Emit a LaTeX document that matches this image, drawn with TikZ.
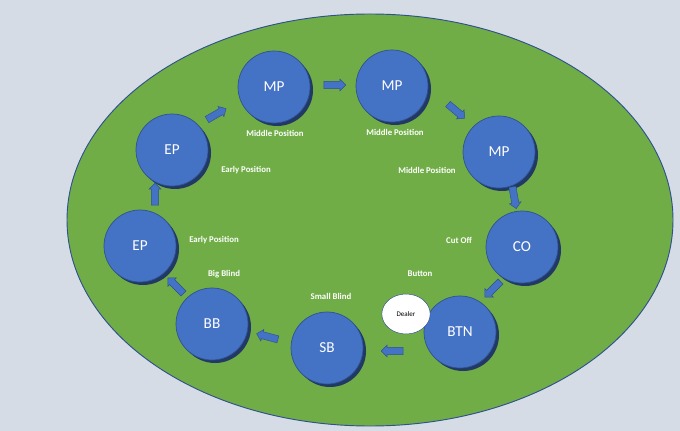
\documentclass[tikz,border=0pt]{standalone}
\usepackage{fontspec}
\setmainfont{Carlito}
\usetikzlibrary{shapes.arrows,shapes.geometric}
\definecolor{bgcol}{HTML}{D6DCE5}
\definecolor{felt}{HTML}{70AD47}
\definecolor{seat}{HTML}{4472C4}
\definecolor{rim}{HTML}{2F528F}
\tikzset{
  seatnode/.style={circle,fill=seat,draw=rim,line width=0.6pt,minimum size=2.16cm,
    text=white,font=\fontsize{13}{15}\selectfont},
  poslabel/.style={text=white,font=\bfseries\fontsize{7.5}{9}\selectfont},
  movearrow/.style={single arrow,fill=seat,draw=rim,line width=0.4pt,
    minimum height=0.66cm,text height=0.2cm,text depth=0pt,text width=0.2cm,
    single arrow head extend=0.07cm,inner sep=0pt}
}
\begin{document}
\begin{tikzpicture}[x=0.03cm,y=-0.03cm]
  \fill[bgcol] (0,0) rectangle (680,431);
  \useasboundingbox (0,0) rectangle (680,431);
  \draw[fill=felt,draw=rim,line width=0.8pt] (370,220) ellipse [x radius=303,y radius=206];
  % seats
  \foreach \x/\y/\n/\t in {274/87/mpa/MP,392/86/mpb/MP,499/152/mpc/MP,522/247/co/CO,
      460/332/btn/BTN,327/348/sb/SB,212/324/bb/BB,140/246/epa/EP,172/150/epb/EP}
    \fill[rim!70!black] (\x+3,\y+3) circle [radius=36];
  \node[seatnode] (mpa) at (274,87) {MP};
  \node[seatnode] (mpb) at (392,86) {MP};
  \node[seatnode] (mpc) at (499,152) {MP};
  \node[seatnode] (co) at (522,247) {CO};
  \node[seatnode] (btn) at (460,332) {BTN};
  \node[seatnode] (sb) at (327,348) {SB};
  \node[seatnode] (bb) at (212,324) {BB};
  \node[seatnode] (epa) at (140,246) {EP};
  \node[seatnode] (epb) at (172,150) {EP};
  \node[ellipse,fill=white,draw=rim,minimum width=1.45cm,minimum height=1.2cm,
    font=\fontsize{6}{7}\selectfont] (dealer) at (406,314) {Dealer};
  % labels
  \node[poslabel] (lmpa) at (275,133) {Middle Position};
  \node[poslabel] (lmpb) at (395,132) {Middle Position};
  \node[poslabel] (lmpc) at (427,170) {Middle Position};
  \node[poslabel] (lepb) at (246,170) {Early Position};
  \node[poslabel] (lepa) at (214,240) {Early Position};
  \node[poslabel] (lco) at (459,240) {Cut Off};
  \node[poslabel] (lbtn) at (420,274) {Button};
  \node[poslabel] (lsb) at (331,296) {Small Blind};
  \node[poslabel] (lbb) at (224,274) {Big Blind};
  % arrows
  \node[movearrow,rotate=0] (aa) at (333,85) {};
  \node[movearrow,rotate=-40] (ab) at (455,110) {};
  \node[movearrow,rotate=-80] (ac) at (514,196) {};
  \node[movearrow,rotate=-135] (ad) at (494,288) {};
  \node[movearrow,rotate=180] (ae) at (394,351) {};
  \node[movearrow,rotate=165] (af) at (269,337) {};
  \node[movearrow,rotate=135] (ag) at (177,287) {};
  \node[movearrow,rotate=90] (ah) at (155,196) {};
  \node[movearrow,rotate=30] (ai) at (215,115) {};
\end{tikzpicture}
\end{document}
